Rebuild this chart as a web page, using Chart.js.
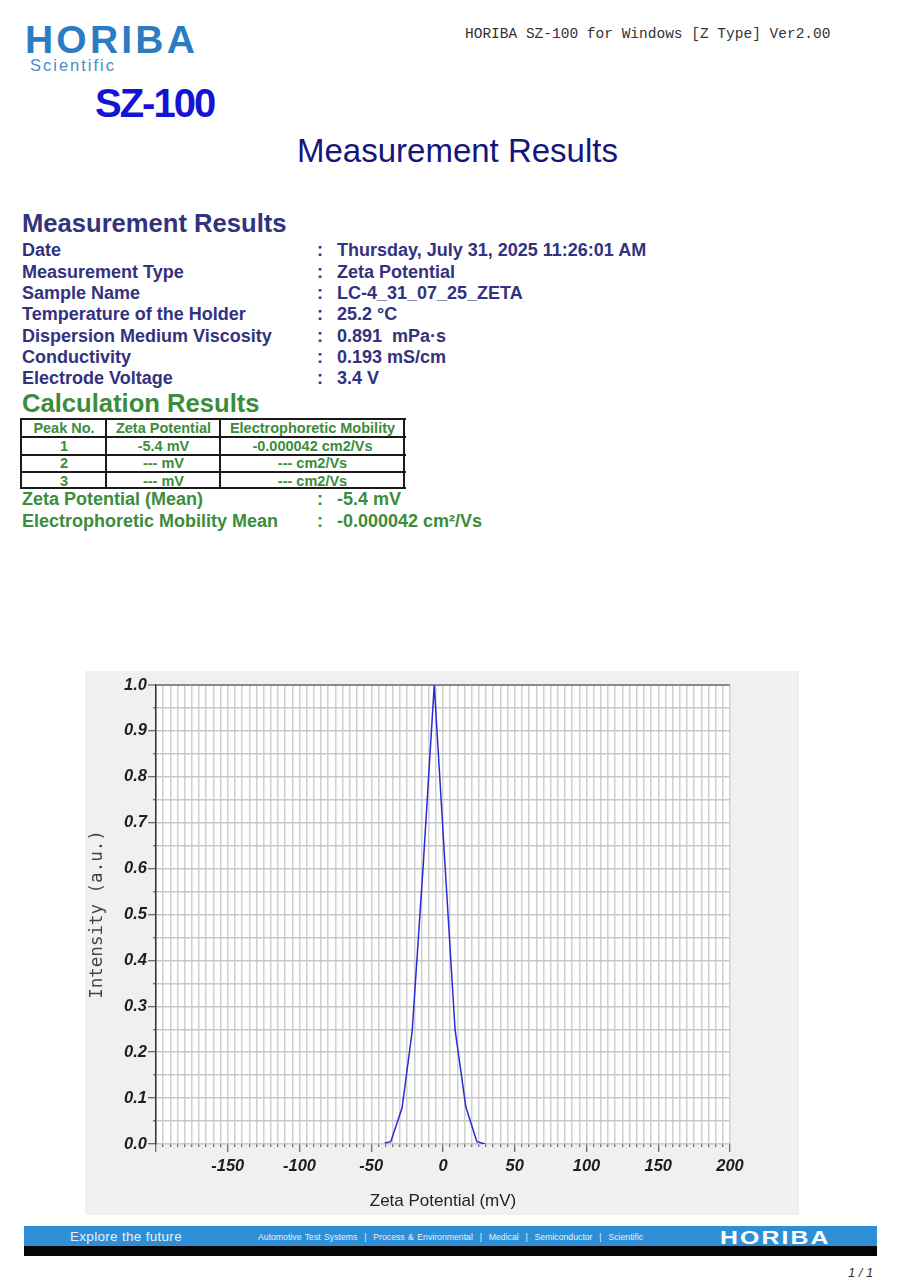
<!DOCTYPE html>
<html>
<head>
<meta charset="utf-8">
<script src="https://cdn.jsdelivr.net/npm/chart.js@4.4.1/dist/chart.umd.min.js"></script>
<style>
  body { margin: 0; width: 915px; height: 1280px; background: #fff; position: relative; overflow: hidden;
         font-family: "Liberation Sans", Arial, sans-serif; }
  .abs { position: absolute; white-space: nowrap; line-height: 1; }
  .navy { color: #32327e; font-weight: bold; font-size: 18px; }
  .green { color: #3b8d3b; font-weight: bold; font-size: 18px; }
  .rows { line-height: 21.3px; }
  .hl { position: absolute; left: 21px; width: 385px; height: 2px; background: #1a1a1a; }
  .vl { position: absolute; top: 418px; height: 71px; width: 2px; background: #1a1a1a; }
  .cell { position: absolute; text-align: center; line-height: 1; color: #3b8d3b; font-weight: bold; font-size: 14.5px; white-space: nowrap; }
  #panel { position: absolute; left: 85px; top: 671px; width: 714px; height: 544px; background: #f0f0f0; }
</style>
</head>
<body>
<div class="abs" style="left:25px; top:20px; font-size:39px; font-weight:bold; color:#2b7cc2; letter-spacing:3.2px;">HORIBA</div>
<div class="abs" style="left:30px; top:57px; font-size:16.5px; color:#4a8bc4; letter-spacing:2px;">Scientific</div>
<div class="abs" style="left:95px; top:83px; font-size:40px; font-weight:bold; color:#1414d4; letter-spacing:-2px;">SZ-100</div>
<div class="abs" style="left:465px; top:27px; font-size:14.5px; font-family:'Liberation Mono', monospace; color:#333;">HORIBA SZ-100 for Windows [Z Type] Ver2.00</div>
<div class="abs" style="left:0; width:915px; text-align:center; top:134px; font-size:33px; color:#15157a;">Measurement Results</div>

<div class="abs navy" style="left:22px; top:211px; font-size:25.6px;">Measurement Results</div>
<div class="abs navy rows" style="left:22px; top:240.4px;">Date<br>Measurement Type<br>Sample Name<br>Temperature of the Holder<br>Dispersion Medium Viscosity<br>Conductivity<br>Electrode Voltage</div>
<div class="abs navy rows" style="left:317px; top:240.4px;">:<br>:<br>:<br>:<br>:<br>:<br>:</div>
<div class="abs navy rows" style="left:337px; top:240.4px;">Thursday, July 31, 2025 11:26:01 AM<br>Zeta Potential<br>LC-4_31_07_25_ZETA<br>25.2 °C<br>0.891&nbsp; mPa·s<br>0.193 mS/cm<br>3.4 V</div>

<div class="abs green" style="left:22px; top:391px; font-size:25.6px;">Calculation Results</div>
<div class="hl" style="top:418px;"></div>
<div class="hl" style="top:436px;"></div>
<div class="hl" style="top:454px;"></div>
<div class="hl" style="top:471px;"></div>
<div class="hl" style="top:487px;"></div>
<div class="vl" style="left:20px;"></div>
<div class="vl" style="left:105px;"></div>
<div class="vl" style="left:219px;"></div>
<div class="vl" style="left:403px;"></div>
<div class="cell" style="left:22px; width:84px; top:421px;">Peak No.</div>
<div class="cell" style="left:107px; width:113px; top:421px;">Zeta Potential</div>
<div class="cell" style="left:221px; width:183px; top:421px;">Electrophoretic Mobility</div>
<div class="cell" style="left:22px; width:84px; top:439px;">1</div>
<div class="cell" style="left:107px; width:113px; top:439px;">-5.4 mV</div>
<div class="cell" style="left:221px; width:183px; top:439px;">-0.000042 cm2/Vs</div>
<div class="cell" style="left:22px; width:84px; top:456.3px;">2</div>
<div class="cell" style="left:107px; width:113px; top:456.3px;">--- mV</div>
<div class="cell" style="left:221px; width:183px; top:456.3px;">--- cm2/Vs</div>
<div class="cell" style="left:22px; width:84px; top:473.5px;">3</div>
<div class="cell" style="left:107px; width:113px; top:473.5px;">--- mV</div>
<div class="cell" style="left:221px; width:183px; top:473.5px;">--- cm2/Vs</div>

<div class="abs green" style="left:22px; top:488px; line-height:22px;">Zeta Potential (Mean)<br>Electrophoretic Mobility Mean</div>
<div class="abs green" style="left:317px; top:488px; line-height:22px;">:<br>:</div>
<div class="abs green" style="left:337px; top:488px; line-height:22px;">-5.4 mV<br>-0.000042 cm²/Vs</div>

<div id="panel"><canvas id="chart" width="714" height="544"></canvas></div>

<div class="abs" style="left:24px; top:1226px; width:853px; height:20px; background:#2f8fd6;"></div>
<div class="abs" style="left:24px; top:1246px; width:853px; height:10px; background:#050505;"></div>
<div class="abs" style="left:70px; top:1229.5px; font-size:13.5px; color:#e6f1fb; letter-spacing:0.3px;">Explore the future</div>
<div class="abs" style="left:258px; top:1232.5px; font-size:8.7px; color:#e6f1fb; word-spacing:1px;">Automotive Test Systems &nbsp;|&nbsp; Process &amp; Environmental &nbsp;|&nbsp; Medical &nbsp;|&nbsp; Semiconductor &nbsp;|&nbsp; Scientific</div>
<div class="abs" style="left:720px; top:1229px; font-size:18px; font-weight:bold; color:#fff; letter-spacing:1.5px; transform:scaleX(1.38); transform-origin:left center;">HORIBA</div>
<div class="abs" style="left:848px; top:1266px; font-size:13px; font-style:italic; color:#333;">1 / 1</div>

<script>
// zeta potential distribution
const zetaMv = [-40.6, -36.4, -28.5, -21.5, -13.8, -6.1, 1.6, 8.4, 15.9, 23.6, 29.4];
const intensity = [0.002, 0.005, 0.079, 0.245, 0.607, 1.0, 0.598, 0.249, 0.081, 0.005, 0.0];

const xMin = -200;
const xMax = 200;
const xStep = 5;
const yStep = 0.05;

const points = zetaMv.map((x, i) => ({ x: x, y: intensity[i] }));

const tickFont = { family: 'Liberation Sans', size: 16.5, weight: 'bold', style: 'italic' };

// white plot area on the grey panel
const plotBackground = {
  id: 'plotBackground',
  beforeDraw(chart) {
    const { ctx, chartArea } = chart;
    ctx.save();
    ctx.fillStyle = '#ffffff';
    ctx.fillRect(chartArea.left, chartArea.top, chartArea.right - chartArea.left, chartArea.bottom - chartArea.top);
    ctx.restore();
  },
};

const config = {
  type: 'scatter',
  data: {
    datasets: [
      {
        label: 'Intensity',
        data: points,
        showLine: true,
        borderColor: '#2a2ad6',
        borderWidth: 1.5,
        pointRadius: 0,
        tension: 0,
      },
    ],
  },
  options: {
    responsive: false,
    animation: false,
    layout: { padding: { left: 0, right: 69, top: 14, bottom: 0 } },
    plugins: {
      legend: { display: false },
      tooltip: { enabled: false },
    },
    scales: {
      x: {
        type: 'linear',
        min: xMin,
        max: xMax,
        afterFit: (scale) => { scale.height = 71; },
        ticks: {
          stepSize: xStep,
          autoSkip: false,
          maxRotation: 0,
          padding: 5,
          color: '#1e1e1e',
          font: tickFont,
          callback: (v) => (v % 50 === 0 && v !== xMin ? String(v) : ''),
        },
        grid: {
          color: '#cfcfcf',
          lineWidth: 1.5,
          tickLength: 8,
          tickColor: '#444',
          tickWidth: 1,
          tickBorderDash: (ctx) => (ctx.tick && ctx.tick.value % 50 === 0 ? [] : [3, 20]),
        },
        border: { display: false },
        title: {
          display: true,
          text: 'Zeta Potential (mV)',
          color: '#222',
          font: { family: 'Liberation Sans', size: 17 },
          padding: { top: 0, bottom: 3 },
        },
      },
      y: {
        min: 0,
        max: 1,
        afterFit: (scale) => { scale.width = 71; },
        ticks: {
          stepSize: yStep,
          autoSkip: false,
          padding: 1,
          color: '#1e1e1e',
          font: tickFont,
          callback: (v) => (Math.round(v * 100) % 10 === 0 ? v.toFixed(1) : ''),
        },
        grid: {
          color: (ctx) => (ctx.tick && ctx.tick.value === 1 ? '#8a8a8a' : '#c6c6c6'),
          lineWidth: (ctx) => (ctx.tick && ctx.tick.value === 1 ? 2 : 1.5),
          tickLength: 8,
          tickColor: '#444',
          tickWidth: 1,
          tickBorderDash: (ctx) => (ctx.tick && Math.round(ctx.tick.value * 100) % 10 === 0 ? [] : [0, 5, 3, 20]),
        },
        border: { display: true, color: '#333', width: 1.5 },
        title: {
          display: true,
          text: 'Intensity (a.u.)',
          color: '#444',
          font: { family: 'DejaVu Sans Mono', size: 17.5 },
          padding: { top: 2, bottom: 0 },
        },
      },
    },
  },
  plugins: [plotBackground],
};

new Chart(document.getElementById('chart'), config);
</script>
</body>
</html>
